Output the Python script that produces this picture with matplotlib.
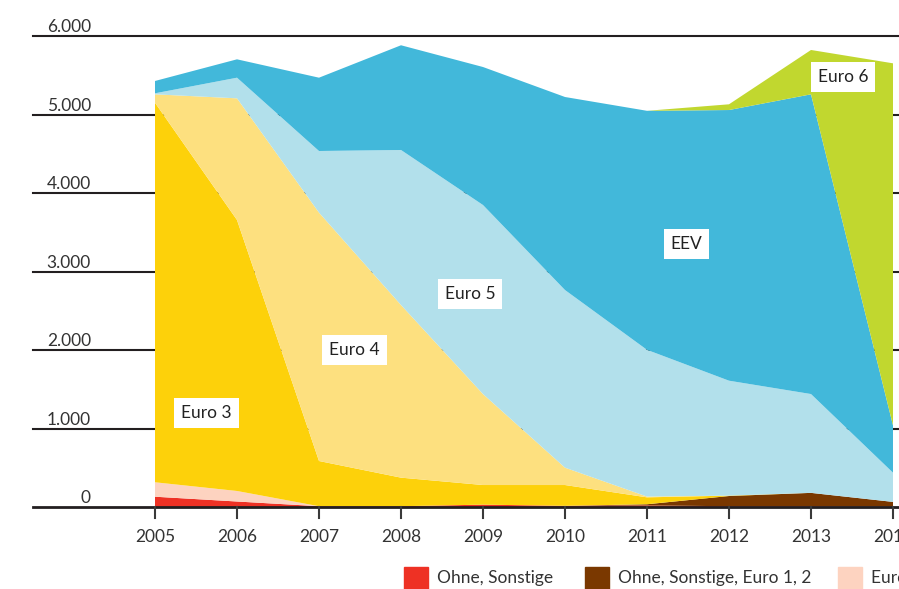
import numpy as np
import matplotlib.pyplot as plt
from matplotlib.patches import Rectangle

plt.rcParams['font.family'] = ['Lato', 'DejaVu Sans']

# Bestand nach Schadstoffklasse, je Jahr
years = [2005, 2006, 2007, 2008, 2009, 2010, 2011, 2012, 2013, 2014]
ohne_sonstige = [131, 70, 10, 10, 30, 15, 20, 10, 10, 5]
ohne_euro12 = [0, 0, 0, 0, 0, 0, 15, 130, 170, 60]
euro2 = [184, 134, 0, 0, 0, 0, 0, 0, 0, 0]
euro3 = [4835, 3452, 576, 364, 250, 265, 88, 5, 0, 0]
euro4 = [107, 1550, 3164, 2199, 1159, 221, 10, 0, 0, 0]
euro5 = [13, 263, 785, 1975, 2408, 2263, 1869, 1464, 1259, 372]
eev = [157, 234, 934, 1334, 1758, 2459, 3045, 3448, 3818, 603]
euro6 = [0, 0, 0, 0, 0, 0, 0, 73, 565, 4612]

series = [ohne_sonstige, ohne_euro12, euro2, euro3, euro4, euro5, eev, euro6]
names = ['Ohne, Sonstige', 'Ohne, Sonstige, Euro 1, 2', 'Euro 2', 'Euro 3',
         'Euro 4', 'Euro 5', 'EEV', 'Euro 6']
colors = ['#EE3124', '#7A3800', '#FDD3C0', '#FDD10A',
          '#FDE07F', '#B2E0EB', '#42B8DA', '#C1D72F']

yticks = [0, 1000, 2000, 3000, 4000, 5000, 6000]
ytick_labels = ['0', '1.000', '2.000', '3.000', '4.000', '5.000', '6.000']

W, H = 899, 589
fig = plt.figure(figsize=(W / 100, H / 100), dpi=100)
ax = fig.add_axes([33 / W, (H - 507) / H, (W - 33) / W, (507 - 36) / H])

x0 = 2005 - (155 - 33) / 82
x1 = 2014 + (899 - 893) / 82
ax.set_xlim(x0, x1)
ax.set_ylim(0, 6000)

# horizontal guide lines behind the areas
for v in yticks[1:]:
    ax.plot([x0, x1], [v, v], color='#231F20', lw=1.5, zorder=0, clip_on=False)

ax.stackplot(years, *series, colors=colors, zorder=2, lw=0)

# zero line and year ticks
ax.plot([x0, x1], [0, 0], color='#231F20', lw=2, zorder=5, clip_on=False)
for yr in years:
    ax.plot([yr, yr], [0, -140], color='#3a3a3a', lw=1.5, zorder=5, clip_on=False)
    ax.text(yr, -380, str(yr), ha='center', va='center', fontsize=12.5,
            color='#333333')

for v, lab in zip(yticks, ytick_labels):
    ax.text(2005 - (155 - 91) / 82, v + 110, lab, ha='right', va='center',
            fontsize=12.5, color='#333333')

# in-area labels
area_labels = [('Euro 3', 2005.63, 1197), ('Euro 4', 2007.43, 2000),
               ('Euro 5', 2008.84, 2713), ('EEV', 2011.48, 3350),
               ('Euro 6', 2013.39, 5478)]
for txt, lx, ly in area_labels:
    ax.text(lx, ly, txt, ha='center', va='center', fontsize=12.5,
            color='#222222', zorder=6,
            bbox=dict(facecolor='white', edgecolor='none', pad=5))

ax.axis('off')

# legend row
leg_x = [404, 585, 838]
for px, name, c in zip(leg_x, names[:3], colors[:3]):
    fig.add_artist(Rectangle((px / W, (H - 590) / H), 24 / W, 23 / H,
                             transform=fig.transFigure, color=c))
    fig.text((px + 33) / W, (H - 578) / H, name, ha='left', va='center',
             fontsize=12.5, color='#333333')

fig.savefig('out.png', dpi=100)
